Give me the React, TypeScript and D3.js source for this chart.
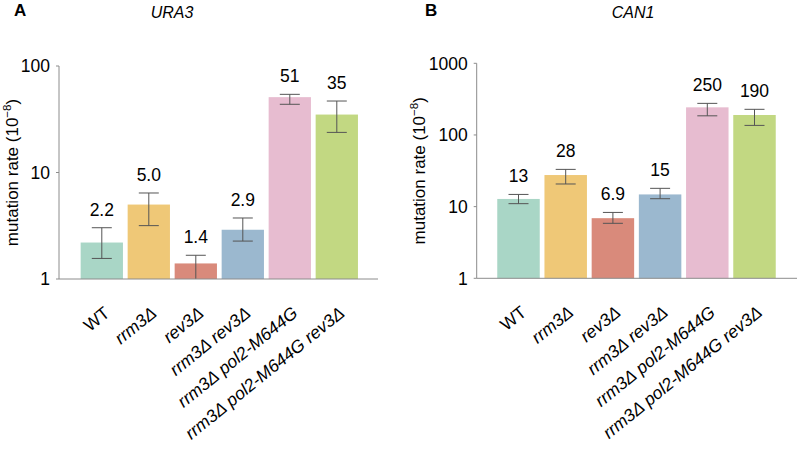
import React from 'react';
import { scaleLog, scaleBand } from 'd3';

const categories = ['WT', 'rrm3Δ', 'rev3Δ', 'rrm3Δ rev3Δ', 'rrm3Δ pol2-M644G', 'rrm3Δ pol2-M644G rev3Δ'];
const italicLabel = [false, true, true, true, true, true];
const barColors = ['#a9d6c6', '#efc877', '#d98a7b', '#9bb8cf', '#e7bcd0', '#c2d882'];

const ura3Rates = [2.2, 5.0, 1.4, 2.9, 51, 35];
const ura3Low = [1.56, 3.17, 1.0, 2.27, 43.7, 23.8];
const ura3High = [3.03, 6.42, 1.67, 3.74, 54.2, 46.9];
const ura3Labels = ['2.2', '5.0', '1.4', '2.9', '51', '35'];
const ura3Ticks = [1, 10, 100];

const can1Rates = [12.8, 27.6, 6.9, 14.8, 243, 190];
const can1Low = [11.0, 20.7, 5.85, 12.9, 185, 136];
const can1High = [14.8, 33.1, 8.3, 18.0, 276, 228];
const can1Labels = ['13', '28', '6.9', '15', '250', '190'];
const can1Ticks = [1, 10, 100, 1000];

const font = '"Liberation Sans", Arial, sans-serif';
const axisColor = '#8c8c8c';
const errColor = '#555';

type PanelProps = {
  letter: string;
  letterX: number;
  gene: string;
  geneX: number;
  axisX: number;
  axisEnd: number;
  yTop: number;
  yBottom: number;
  domainMax: number;
  bandRange: [number, number];
  titleX: number;
  rates: number[];
  low: number[];
  high: number[];
  labels: string[];
  ticks: number[];
};

const Panel = (p: PanelProps) => {
  const y = scaleLog().domain([1, p.domainMax]).range([p.yBottom, p.yTop]);
  const x = scaleBand<string>()
    .domain(categories)
    .range(p.bandRange)
    .paddingInner(0.1)
    .paddingOuter(0.05);
  const bw = x.bandwidth();
  const midY = (p.yTop + p.yBottom) / 2;

  return (
    <g fontFamily={font}>
      <text x={p.letterX} y={16} fontSize={17} fontWeight="bold">{p.letter}</text>
      <text x={p.geneX} y={18} fontSize={16} fontStyle="italic" textAnchor="middle">{p.gene}</text>

      <text
        transform={`translate(${p.titleX},${midY}) rotate(-90)`}
        textAnchor="middle"
        fontSize={17}
      >
        mutation rate (10<tspan dy={-7} fontSize={11.5}>−8</tspan><tspan dy={7}>)</tspan>
      </text>

      {categories.map((c, i) => (
        <rect
          key={c}
          x={x(c)}
          y={y(p.rates[i])}
          width={bw}
          height={p.yBottom - y(p.rates[i])}
          fill={barColors[i]}
        />
      ))}

      {categories.map((c, i) => {
        const cx = (x(c) as number) + bw / 2;
        const lo = Math.max(1, p.low[i]);
        return (
          <g key={c} stroke={errColor} strokeWidth={1}>
            <line x1={cx} x2={cx} y1={y(lo)} y2={y(p.high[i])} />
            <line x1={cx - 10} x2={cx + 10} y1={y(p.high[i])} y2={y(p.high[i])} />
            {p.low[i] > 1 && <line x1={cx - 10} x2={cx + 10} y1={y(lo)} y2={y(lo)} />}
          </g>
        );
      })}

      {categories.map((c, i) => (
        <text
          key={c}
          x={(x(c) as number) + bw / 2}
          y={y(p.high[i]) - 12}
          textAnchor="middle"
          fontSize={17.5}
        >
          {p.labels[i]}
        </text>
      ))}

      <line x1={p.axisX} x2={p.axisX} y1={p.yTop} y2={p.yBottom} stroke={axisColor} />
      <line x1={p.axisX} x2={p.axisEnd} y1={p.yBottom} y2={p.yBottom} stroke={axisColor} />
      {p.ticks.map(t => (
        <g key={t}>
          <line x1={p.axisX - 3} x2={p.axisX} y1={y(t)} y2={y(t)} stroke={axisColor} />
          <text x={p.axisX - 9} y={y(t)} dy="0.36em" textAnchor="end" fontSize={17.5}>{t}</text>
        </g>
      ))}

      {categories.map((c, i) => (
        <text
          key={c}
          transform={`translate(${(x(c) as number) + bw / 2 + 9},${p.yBottom + 36}) rotate(-39)`}
          textAnchor="end"
          fontSize={17.5}
          fontStyle={italicLabel[i] ? 'italic' : 'normal'}
        >
          {c}
        </text>
      ))}
    </g>
  );
};

export default function App() {
  return (
    <svg
      width={798}
      height={456}
      style={{ position: 'absolute', left: 0, top: 0, background: '#fff' }}
    >
      <Panel
        letter="A" letterX={14} gene="URA3" geneX={172}
        axisX={59} axisEnd={378} yTop={66} yBottom={279} domainMax={100}
        bandRange={[78.3, 360.3]} titleX={18}
        rates={ura3Rates} low={ura3Low} high={ura3High} labels={ura3Labels} ticks={ura3Ticks}
      />
      <Panel
        letter="B" letterX={425} gene="CAN1" geneX={633}
        axisX={476.7} axisEnd={797} yTop={63.3} yBottom={278.3} domainMax={1000}
        bandRange={[494.9, 778.1]} titleX={425}
        rates={can1Rates} low={can1Low} high={can1High} labels={can1Labels} ticks={can1Ticks}
      />
    </svg>
  );
}
